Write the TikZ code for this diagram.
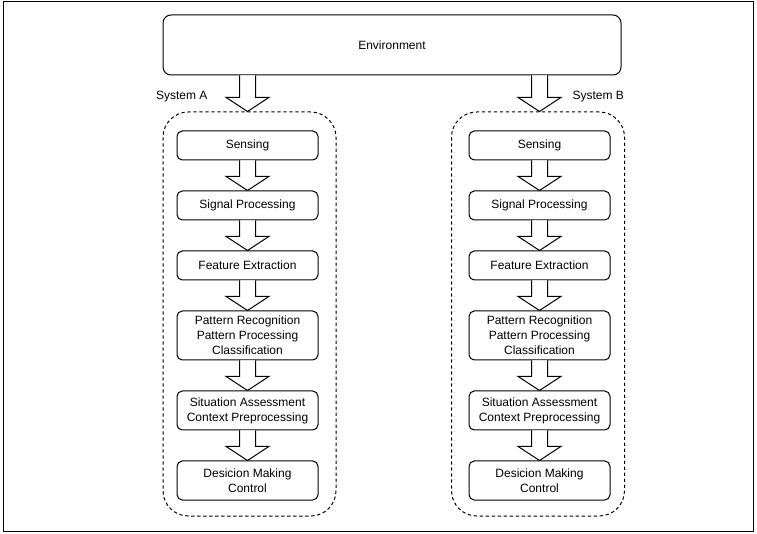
\documentclass[tikz,border=0pt]{standalone}
\usepackage{fontspec}
\setmainfont{Liberation Sans}
\usetikzlibrary{calc}

\tikzset{
  stagebox/.style={draw, rounded corners=4pt, minimum width=105.75pt, align=center, inner sep=0pt, font=\fontsize{9}{11.25}\selectfont},
  groupbox/.style={draw, dash pattern=on 2.5pt off 2pt, rounded corners=19pt, minimum width=129.75pt, minimum height=303pt, inner sep=0pt},
  hollowarrow/.style={draw, fill=white, line width=0.75pt, line join=miter}
}

% hollow block arrow from the bottom of #1 down to the top of #2
\newcommand{\blockarrow}[2]{%
  \path[hollowarrow] let \p1=(#1), \p2=(#2) in
    (\x1-6pt,\y1) -- (\x1-6pt,\y2+10.5pt) -- (\x1-16pt,\y2+10.5pt) -- (\x1,\y2)
    -- (\x1+16pt,\y2+10.5pt) -- (\x1+6pt,\y2+10.5pt) -- (\x1+6pt,\y1);}

\begin{document}
\begin{tikzpicture}[x=0.75pt, y=-0.75pt, line width=0.75pt, font=\fontsize{9}{11.25}\selectfont]
  \useasboundingbox (0,0) rectangle (757,534);
  \draw (3,2) rectangle (753,531);

  \node[draw, rounded corners=6pt, minimum width=343.5pt, minimum height=45pt] (envbox) at (392,45) {Environment};

  \node[groupbox] (sysA) at (249.5,314) {};
  \node[groupbox] (sysB) at (538,314) {};
  \node[anchor=east, inner sep=0pt] (labA) at (208,97) {System A};
  \node[anchor=west, inner sep=0pt] (labB) at (572,97) {System B};

  % system A
  \node[stagebox, minimum height=21.75pt] (senseA) at (247.5,145.5) {Sensing};
  \node[stagebox, minimum height=21.75pt] (sigA) at (247.5,205.5) {Signal Processing};
  \node[stagebox, minimum height=21.75pt] (featA) at (247.5,265.5) {Feature Extraction};
  \node[stagebox, minimum height=36.75pt] (pattA) at (247.5,335.5) {Pattern Recognition\\Pattern Processing\\Classification};
  \node[stagebox, minimum height=29.25pt] (sitA) at (247.5,410.5) {Situation Assessment\\Context Preprocessing};
  \node[stagebox, minimum height=29.25pt] (decA) at (247.5,480.5) {Desicion Making\\Control};

  % system B
  \node[stagebox, minimum height=21.75pt] (senseB) at (539.5,145.5) {Sensing};
  \node[stagebox, minimum height=21.75pt] (sigB) at (539.5,205.5) {Signal Processing};
  \node[stagebox, minimum height=21.75pt] (featB) at (539.5,265.5) {Feature Extraction};
  \node[stagebox, minimum height=36.75pt] (pattB) at (539.5,335.5) {Pattern Recognition\\Pattern Processing\\Classification};
  \node[stagebox, minimum height=29.25pt] (sitB) at (539.5,410.5) {Situation Assessment\\Context Preprocessing};
  \node[stagebox, minimum height=29.25pt] (decB) at (539.5,480.5) {Desicion Making\\Control};

  \blockarrow{envbox.south -| senseA.north}{sysA.north -| senseA.north}
  \blockarrow{envbox.south -| senseB.north}{sysB.north -| senseB.north}

  \blockarrow{senseA.south}{sigA.north}
  \blockarrow{sigA.south}{featA.north}
  \blockarrow{featA.south}{pattA.north}
  \blockarrow{pattA.south}{sitA.north}
  \blockarrow{sitA.south}{decA.north}

  \blockarrow{senseB.south}{sigB.north}
  \blockarrow{sigB.south}{featB.north}
  \blockarrow{featB.south}{pattB.north}
  \blockarrow{pattB.south}{sitB.north}
  \blockarrow{sitB.south}{decB.north}
\end{tikzpicture}
\end{document}
